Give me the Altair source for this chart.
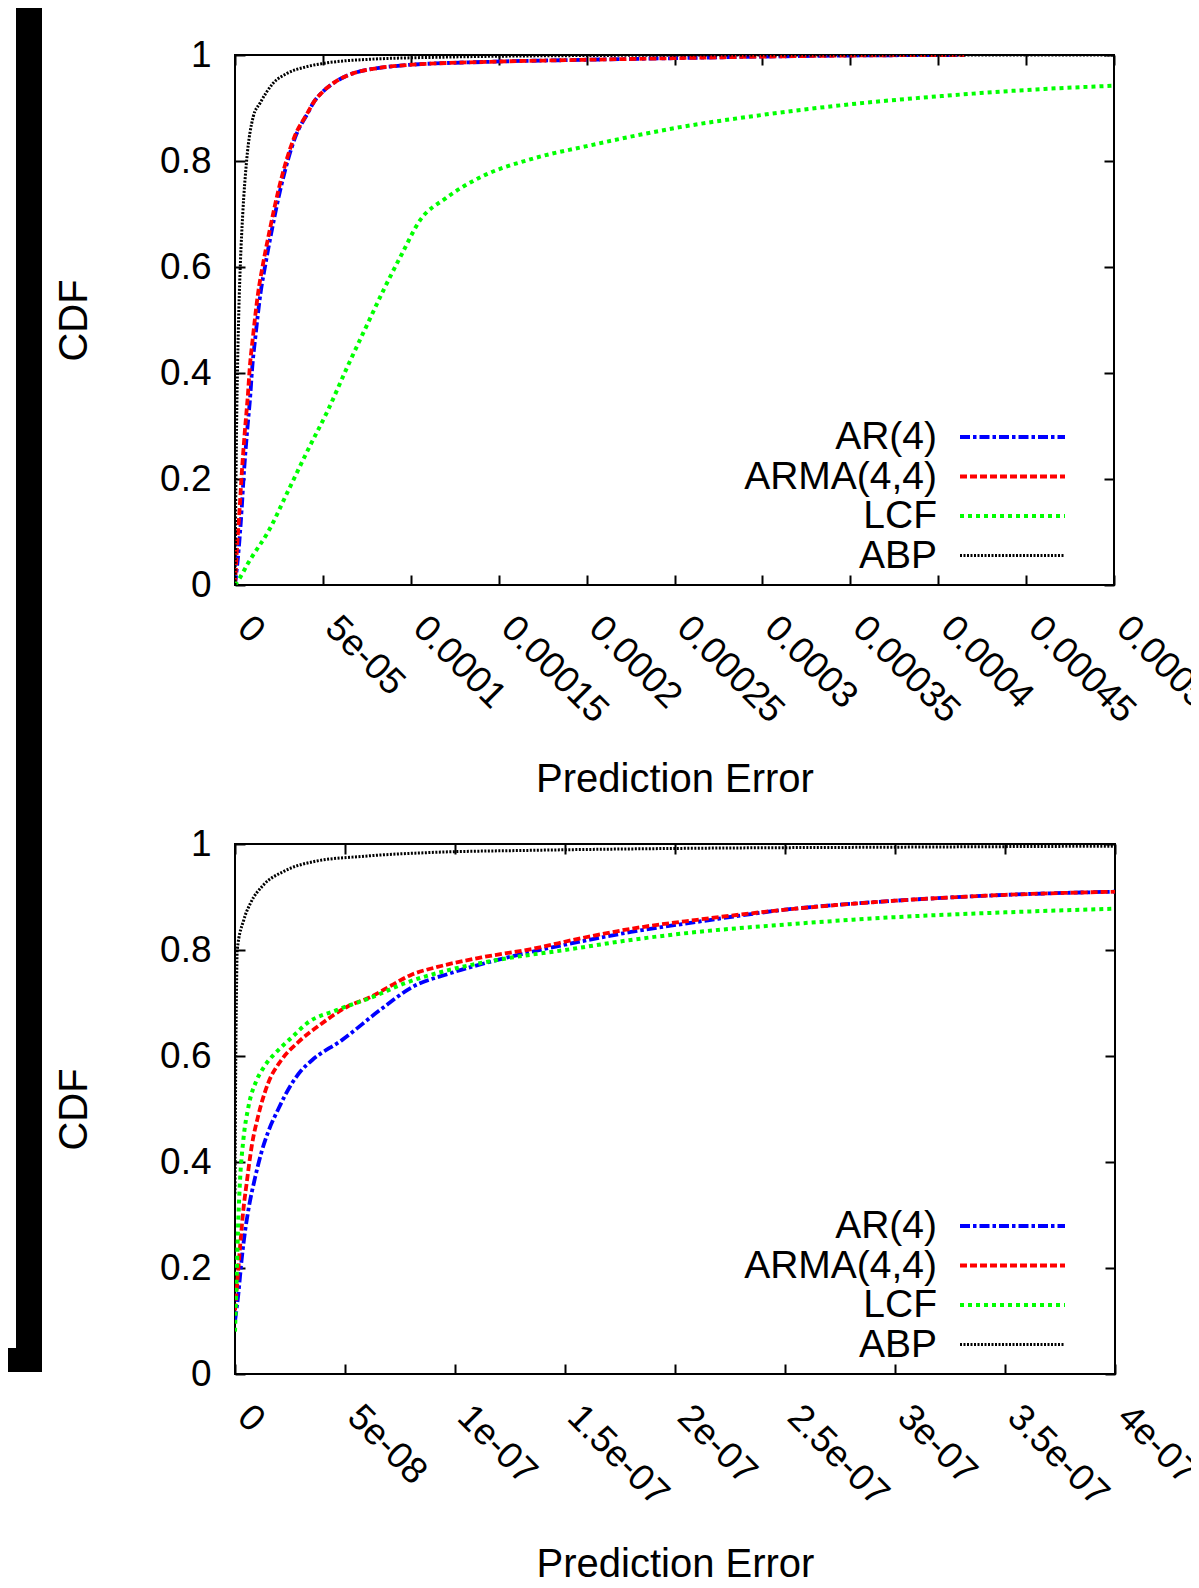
import altair as alt
import pandas as pd

FONT = "Liberation Sans"
SERIES = ["AR(4)", "ARMA(4,4)", "LCF", "ABP"]
COLORS = ["#0000ff", "#ff0000", "#00ff00", "#000000"]
DASHES = [[10, 3, 3.5, 3], [7, 3], [4, 4], [2, 1.5]]
WIDTHS = [3.8, 3.8, 4, 3]

Y_TICKS = [0, 0.2, 0.4, 0.6, 0.8, 1]

# ---------------- top panel ----------------
TOP_TICKS = [0, 5e-05, 0.0001, 0.00015, 0.0002, 0.00025, 0.0003, 0.00035, 0.0004, 0.00045, 0.0005]
TOP_TICK_LABELS = ["0", "5e-05", "0.0001", "0.00015", "0.0002", "0.00025", "0.0003", "0.00035", "0.0004", "0.00045", "0.0005"]

TOP_AR_X = [0, 2.4e-06, 3.9e-06, 4.8e-06, 6.8e-06, 8.8e-06, 9.7e-06, 1.16e-05, 1.45e-05, 1.73e-05, 2.11e-05,
            2.55e-05, 3.02e-05, 3.45e-05, 4.1e-05, 4.5e-05, 5.0e-05, 5.6e-05, 6.3e-05, 7.1e-05, 8.3e-05,
            9.77e-05, 0.000143, 0.0002, 0.00025, 0.0003, 0.00035, 0.000415]
TOP_AR_Y = [0, 0.079, 0.148, 0.198, 0.286, 0.362, 0.406, 0.468, 0.55, 0.605, 0.672,
            0.742, 0.803, 0.847, 0.888, 0.912, 0.931, 0.947, 0.96, 0.969, 0.976,
            0.981, 0.987, 0.991, 0.994, 0.997, 0.999, 1.0]
TOP_ARMA_X = [0, 1.3e-06, 2.7e-06, 3.6e-06, 5.5e-06, 7.4e-06, 8.3e-06, 1.02e-05, 1.31e-05, 1.59e-05, 1.99e-05,
              2.45e-05, 2.94e-05, 3.4e-05, 4.08e-05, 4.5e-05, 5.0e-05, 5.59e-05, 6.3e-05, 7.1e-05, 8.3e-05,
              9.77e-05, 0.000143, 0.0002, 0.00025, 0.0003, 0.00035, 0.000415]
TOP_ARMA_Y = [0, 0.079, 0.148, 0.198, 0.286, 0.362, 0.406, 0.468, 0.55, 0.605, 0.672,
              0.742, 0.803, 0.847, 0.888, 0.912, 0.931, 0.947, 0.96, 0.969, 0.976,
              0.981, 0.987, 0.991, 0.994, 0.997, 0.999, 1.0]
TOP_LCF_X = [0, 2.7e-06, 7.4e-06, 1.0e-05, 1.88e-05, 3.0e-05, 4.15e-05, 5.29e-05, 6.37e-05, 7.5e-05, 8.5e-05,
             9.5e-05, 0.000105, 0.00012, 0.00014, 0.00017, 0.0002, 0.00025, 0.0003, 0.00035, 0.0004,
             0.00045, 0.0005]
TOP_LCF_Y = [0, 0.013, 0.041, 0.055, 0.1, 0.176, 0.255, 0.33, 0.41, 0.49, 0.56,
             0.625, 0.687, 0.73, 0.77, 0.805, 0.828, 0.862, 0.887, 0.907, 0.922,
             0.934, 0.942]
TOP_ABP_X = [0, 4e-07, 9e-07, 1.5e-06, 2.2e-06, 3.1e-06, 4.4e-06, 6.6e-06, 1.04e-05, 1.42e-05, 2.18e-05,
             2.94e-05, 4.08e-05, 5.2e-05, 7.7e-05, 0.00012, 0.0002, 0.0003, 0.0005]
TOP_ABP_Y = [0, 0.15, 0.3, 0.42, 0.52, 0.61, 0.7, 0.8, 0.884, 0.909, 0.947,
             0.965, 0.978, 0.985, 0.992, 0.996, 0.999, 1.0, 1.0]

# ---------------- bottom panel ----------------
BOT_TICKS = [0, 5e-08, 1e-07, 1.5e-07, 2e-07, 2.5e-07, 3e-07, 3.5e-07, 4e-07]
BOT_TICK_LABELS = ["0", "5e-08", "1e-07", "1.5e-07", "2e-07", "2.5e-07", "3e-07", "3.5e-07", "4e-07"]

BOT_AR_X = [0, 1.5e-09, 3.0e-09, 4.6e-09, 6.1e-09, 9.1e-09, 1.2e-08, 1.5e-08, 1.97e-08, 2.58e-08, 3.0e-08,
            3.5e-08, 4.86e-08, 6.6e-08, 8.1e-08, 9.7e-08, 1.19e-07, 1.5e-07, 1.8e-07, 2.1e-07, 2.5e-07,
            3.0e-07, 3.5e-07, 4.0e-07]
BOT_AR_Y = [0.1, 0.15, 0.215, 0.27, 0.31, 0.37, 0.418, 0.456, 0.5, 0.548, 0.572,
            0.592, 0.63, 0.687, 0.731, 0.755, 0.781, 0.81, 0.834, 0.853, 0.876,
            0.893, 0.904, 0.91]
BOT_ARMA_X = [0, 8e-10, 2.3e-09, 3.8e-09, 5.3e-09, 7.6e-09, 1.06e-08, 1.5e-08, 2.1e-08, 2.9e-08, 3.9e-08,
              5.1e-08, 6.2e-08, 7.1e-08, 8.0e-08, 9.2e-08, 1.12e-07, 1.35e-07, 1.57e-07, 1.8e-07, 2.1e-07,
              2.5e-07, 3.0e-07, 3.5e-07, 4.0e-07]
BOT_ARMA_Y = [0.12, 0.16, 0.24, 0.31, 0.36, 0.43, 0.488, 0.548, 0.592, 0.627, 0.66,
              0.693, 0.712, 0.733, 0.753, 0.768, 0.786, 0.802, 0.822, 0.84, 0.857,
              0.876, 0.893, 0.904, 0.91]
BOT_LCF_X = [0, 8e-10, 1.5e-09, 2.3e-09, 3.8e-09, 6.1e-09, 9.9e-09, 1.3e-08, 2.06e-08, 2.58e-08, 3.28e-08,
             4.65e-08, 6.3e-08, 7.7e-08, 9.7e-08, 1.19e-07, 1.5e-07, 1.8e-07, 2.1e-07, 2.5e-07, 3.0e-07,
             3.5e-07, 4.0e-07]
BOT_LCF_Y = [0.08, 0.19, 0.29, 0.366, 0.442, 0.504, 0.555, 0.578, 0.615, 0.635, 0.662,
             0.687, 0.712, 0.737, 0.762, 0.781, 0.8, 0.819, 0.834, 0.848, 0.862,
             0.871, 0.878]
BOT_ABP_X = [0, 2e-10, 4e-10, 7e-10, 1.0e-09, 4e-09, 7e-09, 1.3e-08, 2.2e-08, 3.6e-08, 5.9e-08,
             8.9e-08, 1.34e-07, 2.1e-07, 3.0e-07, 4.0e-07]
BOT_ABP_Y = [0.34, 0.5, 0.62, 0.73, 0.8, 0.857, 0.888, 0.923, 0.948, 0.967, 0.977,
             0.984, 0.988, 0.992, 0.994, 0.996]


def series_df(pairs):
    rows = []
    for name, (xs, ys) in zip(SERIES, pairs):
        for xv, yv in zip(xs, ys):
            rows.append({"series": name, "x": xv, "y": yv})
    return pd.DataFrame(rows)


def label_expr(ticks, labels):
    expr = "'" + labels[-1] + "'"
    for i in range(len(ticks) - 2, -1, -1):
        mid = (ticks[i] + ticks[i + 1]) / 2
        expr = "datum.value < " + repr(mid) + " ? '" + labels[i] + "' : (" + expr + ")"
    return expr


LEGEND_DF = pd.DataFrame({"series": SERIES})


def panel(df, xmax, ticks, labels, width, height, title_pad, with_bar=False):
    x_enc = alt.X(
        "x:Q",
        scale=alt.Scale(domain=[0, xmax], nice=False, zero=False),
        axis=alt.Axis(
            values=ticks, labelExpr=label_expr(ticks, labels), title="Prediction Error",
            labelAngle=45, labelAlign="left", labelBaseline="middle", labelOffset=8,
            labelPadding=37, titlePadding=title_pad,
            gridDash=[10, height - 20, 10],
        ),
    )
    y_enc = alt.Y(
        "y:Q",
        scale=alt.Scale(domain=[0, 1], nice=False),
        axis=alt.Axis(
            values=Y_TICKS, format="~g", title="CDF", labelPadding=24, titlePadding=65,
            gridDash=[10, width - 20, 10],
        ),
    )
    lines = []
    for s, c, d, w in zip(SERIES, COLORS, DASHES, WIDTHS):
        lines.append(
            alt.Chart(df).transform_filter(alt.datum.series == s)
            .mark_line(color=c, strokeDash=d, strokeWidth=w, clip=True, strokeCap="butt", interpolate="monotone")
            .encode(x=x_enc, y=y_enc)
        )
    leg_y = alt.Y("series:N", scale=alt.Scale(type="point", domain=SERIES, range=[382, 500.5], padding=0), axis=None)
    leg = []
    for s, c, d, w in zip(SERIES, COLORS, DASHES, WIDTHS):
        leg.append(
            alt.Chart(LEGEND_DF).transform_filter(alt.datum.series == s)
            .mark_rule(color=c, strokeDash=d, strokeWidth=w, strokeCap="butt")
            .encode(x=alt.value(725), x2=alt.value(830), y=leg_y)
        )
    leg.append(
        alt.Chart(LEGEND_DF).mark_text(align="right", baseline="middle", font=FONT, fontSize=39, color="black")
        .encode(x=alt.value(702), y=leg_y, text="series:N")
    )
    layers = [alt.layer(*lines), alt.layer(*leg)]
    if with_bar:
        bar_df = pd.DataFrame({"part": ["vertical", "foot"]})
        bar_v = alt.Chart(bar_df).transform_filter(alt.datum.part == "vertical").mark_rect(color="black").encode(
            x=alt.value(-219), x2=alt.value(-193), y=alt.value(-60), y2=alt.value(1317))
        bar_f = alt.Chart(bar_df).transform_filter(alt.datum.part == "foot").mark_rect(color="black").encode(
            x=alt.value(-240), x2=alt.value(-193), y=alt.value(1293), y2=alt.value(1317))
        layers += [bar_v, bar_f]
    return alt.layer(*layers).resolve_scale(y="independent").properties(width=width, height=height)


top = panel(series_df([(TOP_AR_X, TOP_AR_Y), (TOP_ARMA_X, TOP_ARMA_Y), (TOP_LCF_X, TOP_LCF_Y), (TOP_ABP_X, TOP_ABP_Y)]),
            0.0005, TOP_TICKS, TOP_TICK_LABELS, 879, 530, 30, with_bar=True)
bottom = panel(series_df([(BOT_AR_X, BOT_AR_Y), (BOT_ARMA_X, BOT_ARMA_Y), (BOT_LCF_X, BOT_LCF_Y), (BOT_ABP_X, BOT_ABP_Y)]),
               4e-07, BOT_TICKS, BOT_TICK_LABELS, 880, 530, 32)

chart = (
    alt.vconcat(top, bottom, spacing=259, bounds="flush")
    .properties(
        autosize=alt.AutoSizeParams(type="none"),
        padding={"left": 227, "top": 47, "right": 956, "bottom": 1525},
        background="white",
    )
    .configure_view(stroke="black", strokeWidth=2)
    .configure_axis(
        labelFont=FONT, titleFont=FONT, labelFontSize=37, titleFontSize=40,
        labelColor="black", titleColor="black", titleFontWeight="normal",
        domain=False, ticks=False, tickSize=0,
        grid=True, gridColor="black", gridOpacity=1, gridWidth=2,
        labelFlush=False, labelOverlap=False, labelBound=False,
    )
)

chart.save("out.html", embed_options={"renderer": "svg", "actions": False})
